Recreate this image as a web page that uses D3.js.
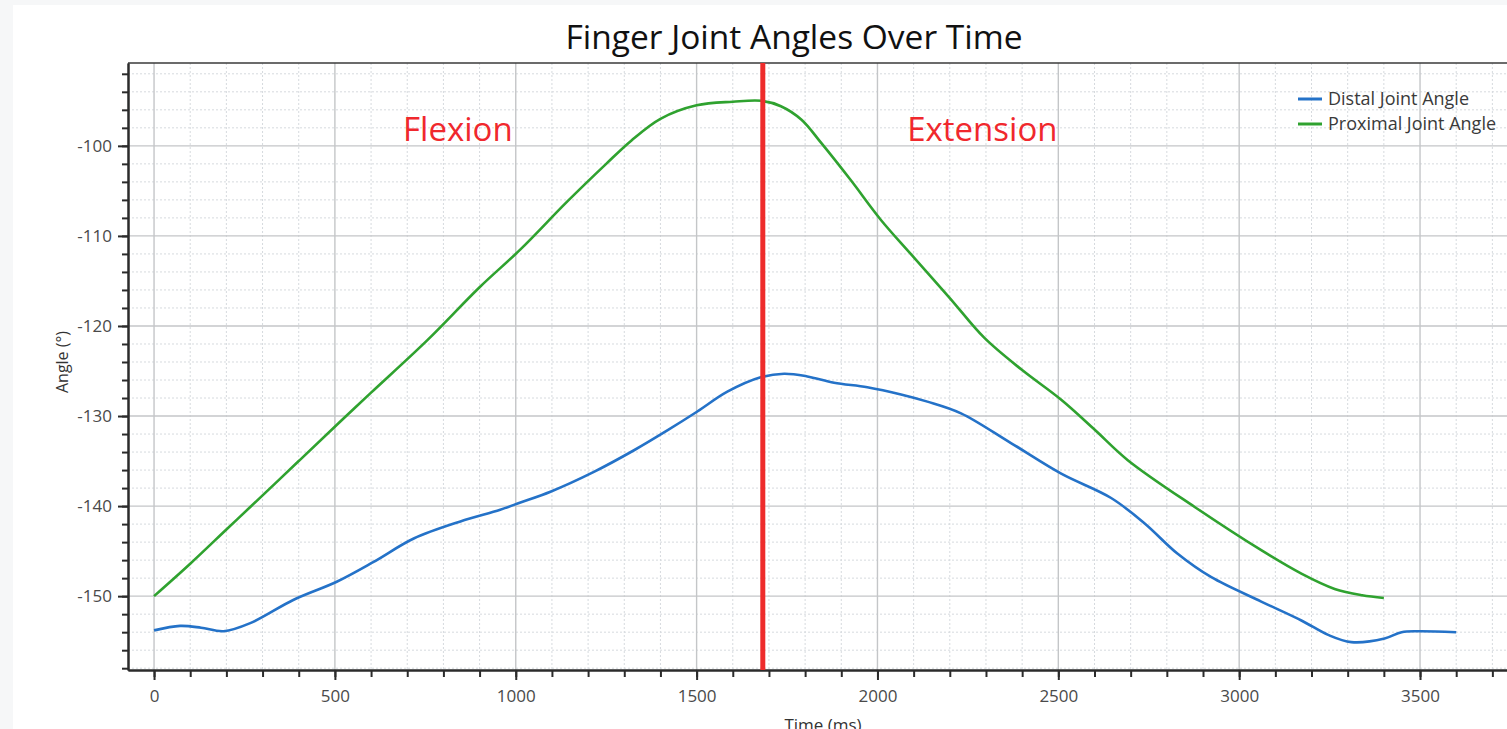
<!DOCTYPE html>
<html>
<head>
<meta charset="utf-8">
<script src="https://cdn.jsdelivr.net/npm/d3@7"></script>
<style>
  body { margin: 0; background: #f6f7f8; }
  svg { display: block; font-family: "Open Sans", "Noto Sans", sans-serif; }
</style>
</head>
<body>
<svg id="chart" width="1507" height="729"></svg>
<script>
// data
var proxTime = [0, 100, 200, 266, 400, 515, 600, 755, 900, 1013, 1142, 1250, 1320, 1400, 1500, 1600, 1680, 1733, 1790, 1845, 1926, 2009, 2092, 2200, 2295, 2400, 2508, 2600, 2692, 2877, 3061, 3172, 3264, 3340, 3400];
var proxAngle = [-150, -146.4, -142.6, -140.1, -135.0, -130.6, -127.4, -121.6, -115.7, -111.5, -106.2, -102.0, -99.4, -97.0, -95.5, -95.1, -95.0, -95.6, -97.1, -99.7, -103.8, -108.2, -112.0, -116.9, -121.3, -124.9, -128.2, -131.5, -134.9, -140.1, -144.9, -147.5, -149.2, -149.9, -150.2];
var distTime = [0, 72, 130, 192, 266, 386, 505, 607, 718, 847, 957, 1013, 1096, 1216, 1327, 1419, 1502, 1585, 1677, 1742, 1806, 1880, 1972, 2065, 2138, 2231, 2369, 2508, 2646, 2738, 2830, 2923, 3061, 3172, 3246, 3310, 3402, 3449, 3495, 3600];
var distAngle = [-153.8, -153.3, -153.5, -153.9, -153.0, -150.4, -148.4, -146.2, -143.6, -141.7, -140.4, -139.6, -138.4, -136.2, -133.8, -131.6, -129.5, -127.3, -125.7, -125.3, -125.6, -126.3, -126.8, -127.6, -128.4, -129.7, -133.0, -136.4, -139.1, -141.9, -145.3, -147.9, -150.6, -152.7, -154.3, -155.1, -154.7, -154.0, -153.9, -154.0];
var seriesNames = ["Distal Joint Angle", "Proximal Joint Angle"];
var seriesColors = ["#2472c8", "#2fa22f"];
var xTickVals = [0, 500, 1000, 1500, 2000, 2500, 3000, 3500];
var yTickVals = [-150, -140, -130, -120, -110, -100];
var splitTime = 1683;
var phaseLabels = [{name: "Flexion", t: 840}, {name: "Extension", t: 2290}];

var svg = d3.select("#chart");
var pLeft = 128, pTop = 63, pBottom = 670;

// white panel
svg.append("rect").attr("x", 13).attr("y", 5).attr("width", 1494).attr("height", 724).attr("fill", "#ffffff");

var x = d3.scaleLinear().domain([-72, 3800]).range([pLeft, pLeft + 3872 * 0.36171]);
var y = d3.scaleLinear().domain([-158.2, -90.8]).range([pBottom, pTop]);
var pRight = x(3800);

var grid = svg.append("g");
// minor grid
grid.selectAll(".vmin").data(d3.range(0, 3801, 100).filter(function(d){ return d % 500 != 0; }))
  .enter().append("line")
  .attr("x1", function(d){ return x(d); }).attr("x2", function(d){ return x(d); })
  .attr("y1", pTop).attr("y2", pBottom)
  .attr("stroke", "#d6dade").attr("stroke-width", 1).attr("stroke-dasharray", "2,2");
grid.selectAll(".hmin").data(d3.range(-158, -91, 2).filter(function(d){ return d % 10 != 0; }))
  .enter().append("line")
  .attr("x1", pLeft).attr("x2", pRight)
  .attr("y1", function(d){ return y(d); }).attr("y2", function(d){ return y(d); })
  .attr("stroke", "#d6dade").attr("stroke-width", 1).attr("stroke-dasharray", "2,2");
// major grid
grid.selectAll(".vmaj").data(xTickVals).enter().append("line")
  .attr("x1", function(d){ return x(d); }).attr("x2", function(d){ return x(d); })
  .attr("y1", pTop).attr("y2", pBottom)
  .attr("stroke", "#c4c6c8").attr("stroke-width", 1.4);
grid.selectAll(".hmaj").data(yTickVals).enter().append("line")
  .attr("x1", pLeft).attr("x2", pRight)
  .attr("y1", function(d){ return y(d); }).attr("y2", function(d){ return y(d); })
  .attr("stroke", "#c4c6c8").attr("stroke-width", 1.4);

// top border
svg.append("line").attr("x1", pLeft).attr("x2", pRight).attr("y1", pTop).attr("y2", pTop)
  .attr("stroke", "#3a3a3a").attr("stroke-width", 1.5);

// axes (plain hyphen minus like the original)
var plain = function(d){ return String(d); };
var xAxis = d3.axisBottom(x).tickValues(xTickVals).tickFormat(plain).tickSize(10).tickPadding(10).tickSizeOuter(0);
var xMinor = d3.axisBottom(x).tickValues(d3.range(0, 3801, 100)).tickSize(7).tickFormat("").tickSizeOuter(0);
var yAxis = d3.axisLeft(y).tickValues(yTickVals).tickFormat(plain).tickSize(10).tickPadding(6).tickSizeOuter(0);
var yMinor = d3.axisLeft(y).tickValues(d3.range(-158, -91, 2)).tickSize(6).tickFormat("").tickSizeOuter(0);

function styleAxis(g){
  g.select(".domain").attr("stroke", "#2b2b2b").attr("stroke-width", 2);
  g.selectAll(".tick line").attr("stroke", "#2b2b2b").attr("stroke-width", 2);
  g.selectAll(".tick text").attr("fill", "#4a4a4a").style("font-size", "17px").style("font-family", "'Open Sans', sans-serif");
}
svg.append("g").attr("transform", "translate(0," + pBottom + ")").call(xMinor).call(styleAxis);
svg.append("g").attr("transform", "translate(0," + pBottom + ")").call(xAxis).call(styleAxis);
svg.append("g").attr("transform", "translate(" + pLeft + ",0)").call(yMinor).call(styleAxis);
svg.append("g").attr("transform", "translate(" + pLeft + ",0)").call(yAxis).call(styleAxis);

// lines
var line = d3.line().x(function(d){ return x(d[0]); }).y(function(d){ return y(d[1]); }).curve(d3.curveCatmullRom.alpha(0.5));
var distal = d3.zip(distTime, distAngle);
var proximal = d3.zip(proxTime, proxAngle);
svg.append("path").datum(distal).attr("d", line).attr("fill", "none").attr("stroke", seriesColors[0]).attr("stroke-width", 2.6);
svg.append("path").datum(proximal).attr("d", line).attr("fill", "none").attr("stroke", seriesColors[1]).attr("stroke-width", 2.6);

// red split line
svg.append("line").attr("x1", x(splitTime)).attr("x2", x(splitTime)).attr("y1", pTop).attr("y2", pBottom)
  .attr("stroke", "#ee2b2b").attr("stroke-width", 5);

// phase labels
svg.selectAll(".phase").data(phaseLabels).enter().append("text")
  .attr("x", function(d){ return x(d.t); }).attr("y", 141)
  .attr("text-anchor", "middle").attr("fill", "#f0282d")
  .style("font-size", "33px")
  .text(function(d){ return d.name; });

// legend
var legend = svg.append("g").attr("transform", "translate(1298,99)");
legend.selectAll("line").data(seriesNames).enter().append("line")
  .attr("x1", 0).attr("x2", 24)
  .attr("y1", function(d, i){ return i * 25; }).attr("y2", function(d, i){ return i * 25; })
  .attr("stroke", function(d, i){ return seriesColors[i]; }).attr("stroke-width", 3);
legend.selectAll("text").data(seriesNames).enter().append("text")
  .attr("x", 30).attr("y", function(d, i){ return i * 25 + 6; })
  .attr("fill", "#3a3a3a").style("font-size", "18px")
  .text(function(d){ return d; });

// title and axis labels
svg.append("text").attr("x", 794).attr("y", 49).attr("text-anchor", "middle")
  .attr("fill", "#111").style("font-size", "33.5px").text("Finger Joint Angles Over Time");
svg.append("text").attr("x", 823).attr("y", 731).attr("text-anchor", "middle")
  .attr("fill", "#333").style("font-size", "17px").text("Time (ms)");
svg.append("text").attr("transform", "translate(68,362) rotate(-90)").attr("text-anchor", "middle")
  .attr("fill", "#333").style("font-size", "16px").text("Angle (°)");
</script>
</body>
</html>
